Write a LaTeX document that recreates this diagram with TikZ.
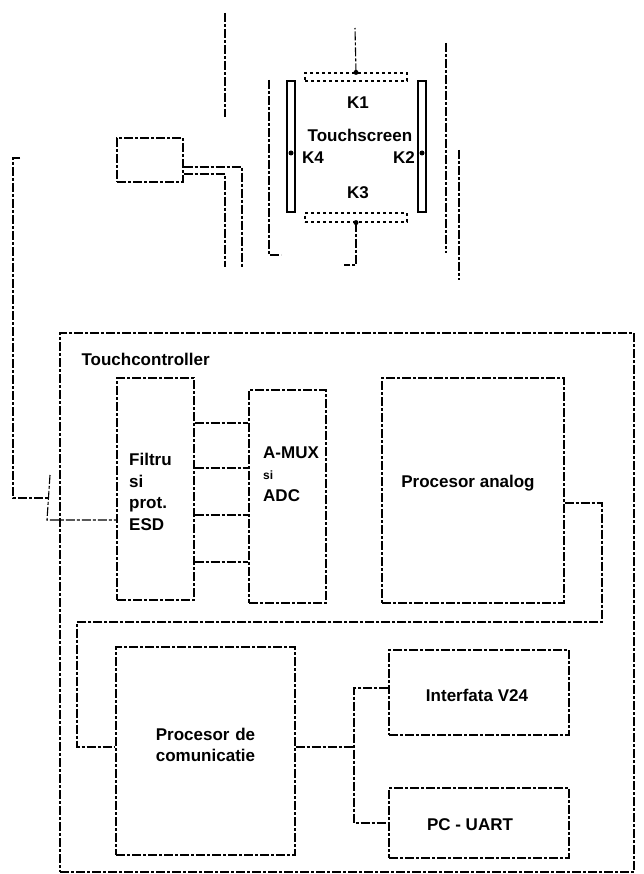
\documentclass[tikz,border=0pt]{standalone}
\usepackage{fontspec}
\setmainfont{Liberation Sans}
\usetikzlibrary{positioning, fit, calc}

\begin{document}
\begin{tikzpicture}[
    x=1pt, y=-1pt,
    font=\fontsize{17}{21.5}\selectfont\bfseries,
    wire/.style={line width=1.1pt, dash pattern=on 9pt off 2pt on 3pt off 2pt},
    blk/.style={draw, wire, inner sep=0pt},
    electrode/.style={draw, line width=1.2pt, inner sep=0pt},
    dot/.style={circle, fill, inner sep=0pt, minimum size=5pt},
    lefttext/.style={align=left, anchor=west, inner sep=0pt}
]
\useasboundingbox (0,0) rectangle (644,874);

% Touchscreen with its four electrodes
\node[electrode, dash pattern=on 3pt off 3pt, fit={(305,73)(407,81)}] (kt) {};
\node[electrode, dash pattern=on 3pt off 3pt, fit={(305,213)(407,222)}] (kb) {};
\node[electrode, fit={(287,81)(295,212)}] (kl) {};
\node[electrode, fit={(418,81)(426,212)}] (kr) {};
\node (k1) at (358,103) {K1};
\node (screen) at (360,135) {Touchscreen};
\node (k4) at (313,158) {K4};
\node (k2) at (404,158) {K2};
\node (k3) at (358,193) {K3};
\node[dot] at (kt.north) {};
\node[dot] at (kb.south) {};
\node[dot] at (kl.center |- 0,153) {};
\node[dot] at (kr.center |- 0,153) {};

% cable and plug
\node[blk, fit={(117,138)(183,182)}] (plug) {};
\coordinate (k1end) at (355,28);
\coordinate (k3end) at (344,265);
\coordinate (sl1) at (269,80);
\coordinate (sl2) at (281,255);
\coordinate (sr1) at (446,43);
\coordinate (sr2) at (446,253);
\coordinate (sr3) at (459,150);
\coordinate (sr4) at (459,280);
\coordinate (st1) at (225,13);
\coordinate (st2) at (225,117);
\coordinate (pw1) at (242,267);
\coordinate (pw2) at (225,267);
\draw[wire] (kt.north) -- (k1end);
\draw[wire] (kb.south) |- (k3end);
\draw[wire] (sl1) |- (sl2);
\draw[wire] (sr1) -- (sr2);
\draw[wire] (sr3) -- (sr4);
\draw[wire] (st1) -- (st2);
\draw[wire] (plug.east |- 0,167) -| (pw1);
\draw[wire] (plug.east |- 0,174) -| (pw2);

% Touchcontroller
\node[blk, fit={(60,333)(634,872)}] (tc) {};
\node[anchor=west] (tclabel) at (78,359) {Touchcontroller};
\node[blk, fit={(117,378)(194,600)}] (filtru) {};
\node[lefttext] (filtrutxt) at (129,492) {Filtru\\si\\prot.\\ESD};
\node[blk, fit={(249,390)(326,603)}] (amux) {};
\node[lefttext] (amuxtxt) at (263,474) {A-MUX\\{\fontsize{12}{14}\selectfont si}\\ADC};
\node[blk, fit={(382,378)(564,603)}] (pa) {};
\node (patxt) at (468,483) {Procesor analog};
\node[blk, fit={(116,647)(295,855)}, align=center] (pdc) {Procesor de\\comunicatie};
\node[blk, fit={(389,650)(569,735)}] (v24) {};
\node (v24txt) at (477,695) {Interfata V24};
\node[blk, fit={(389,788)(569,858)}] (uart) {};
\node (uarttxt) at (470,825) {PC - UART};

% input lead
\coordinate (fl1) at (20,158);
\coordinate (fl2) at (13,498);
\coordinate (ent) at (48,498);
\coordinate (entt) at (50,475);
\coordinate (entb) at (47,520);
\draw[wire] (fl1) -- (fl2 |- fl1) -- (fl2) -- (ent);
\draw[wire] (entt) -- (entb) -- (filtru.west |- entb);

% channels
\foreach \yy in {423,468,515,562}
    \draw[wire] (filtru.east |- 0,\yy) -- (amux.west |- 0,\yy);

% analog processor to communication processor
\coordinate (pa1) at (602,503);
\coordinate (pa2) at (77,622);
\coordinate (pa3) at (77,747);
\draw[wire] (pa.east |- pa1) -- (pa1) |- (pa2) -- (pa3) -- (pdc.west |- pa3);

% serial outputs
\coordinate (bus1) at (354,688);
\coordinate (bus2) at (354,823);
\draw[wire] (pdc.east |- pa3) -- (bus1 |- pa3);
\draw[wire] (v24.west |- bus1) -- (bus1) -- (bus2) -- (uart.west |- bus2);
\end{tikzpicture}
\end{document}
